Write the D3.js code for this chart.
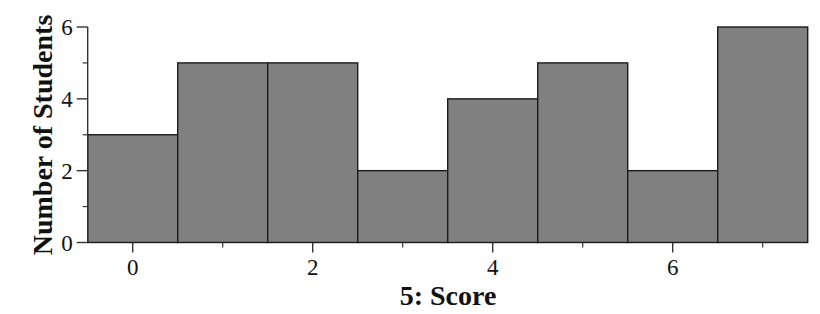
<!DOCTYPE html>
<meta charset="utf-8">
<head>
  <title>Score histogram</title>
</head>
<style>
body { margin: 0; background: #fff; }
text { font-family: "Liberation Serif", "Times New Roman", serif; fill: #111; }
</style>
<body>
  <div id="content"></div>
  <script src="https://cdnjs.cloudflare.com/ajax/libs/d3/7.8.5/d3.min.js"></script>
  <script>

// Data
var scores = [0, 1, 2, 3, 4, 5, 6, 7];
var counts = [3, 5, 5, 2, 4, 5, 2, 6];
var xTicks = [0, 2, 4, 6];
var xMinor = [1, 3, 5, 7];
var yTicks = [0, 2, 4, 6];
var yMinor = [1, 3, 5];

var width = 820, height = 314;

var svg = d3.select('#content').append('svg')
  .attr('width', width)
  .attr('height', height);

var x = d3.scaleLinear().domain([-0.5, 7.5]).range([87.7, 807.7]);
var y = d3.scaleLinear().domain([0, 6]).range([242.5, 27]);

// bars
svg.selectAll('rect.bar')
  .data(scores)
  .enter().append('rect')
  .attr('class', 'bar')
  .attr('x', function(d) { return x(d - 0.5); })
  .attr('y', function(d, i) { return y(counts[i]); })
  .attr('width', function(d) { return x(d + 0.5) - x(d - 0.5); })
  .attr('height', function(d, i) { return y(0) - y(counts[i]); })
  .attr('fill', '#808080')
  .attr('stroke', '#1a1a1a')
  .attr('stroke-width', 1.4);

// y axis
var yAxis = svg.append('g').attr('transform', 'translate(' + x(-0.5) + ',0)');
yAxis.append('line')
  .attr('y1', y(6)).attr('y2', y(0))
  .attr('stroke', '#333').attr('stroke-width', 1.4);
yAxis.selectAll('line.major').data(yTicks).enter().append('line')
  .attr('x1', -11).attr('x2', 0)
  .attr('y1', function(d) { return y(d); }).attr('y2', function(d) { return y(d); })
  .attr('stroke', '#333').attr('stroke-width', 1.4);
yAxis.selectAll('line.minor').data(yMinor).enter().append('line')
  .attr('x1', -5).attr('x2', 0)
  .attr('y1', function(d) { return y(d); }).attr('y2', function(d) { return y(d); })
  .attr('stroke', '#333').attr('stroke-width', 1.2);
yAxis.selectAll('text').data(yTicks).enter().append('text')
  .attr('x', -15)
  .attr('y', function(d) { return y(d); })
  .attr('dy', '0.35em')
  .attr('text-anchor', 'end')
  .style('font-size', '23px')
  .text(function(d) { return d; });

// x axis
var xAxis = svg.append('g').attr('transform', 'translate(0,' + y(0) + ')');
xAxis.selectAll('line.major').data(xTicks).enter().append('line')
  .attr('x1', function(d) { return x(d); }).attr('x2', function(d) { return x(d); })
  .attr('y1', 0).attr('y2', 10)
  .attr('stroke', '#333').attr('stroke-width', 1.4);
xAxis.selectAll('line.minor').data(xMinor).enter().append('line')
  .attr('x1', function(d) { return x(d); }).attr('x2', function(d) { return x(d); })
  .attr('y1', 0).attr('y2', 5)
  .attr('stroke', '#333').attr('stroke-width', 1.2);
xAxis.selectAll('text').data(xTicks).enter().append('text')
  .attr('x', function(d) { return x(d); })
  .attr('y', 32)
  .attr('text-anchor', 'middle')
  .style('font-size', '23px')
  .text(function(d) { return d; });

// titles
svg.append('text')
  .attr('x', 448).attr('y', 305)
  .attr('text-anchor', 'middle')
  .style('font-size', '28px').style('font-weight', 'bold')
  .text('5: Score');

svg.append('text')
  .attr('transform', 'translate(52,135) rotate(-90)')
  .attr('text-anchor', 'middle')
  .style('font-size', '28px').style('font-weight', 'bold')
  .text('Number of Students');
</script>
</body>
</html>
